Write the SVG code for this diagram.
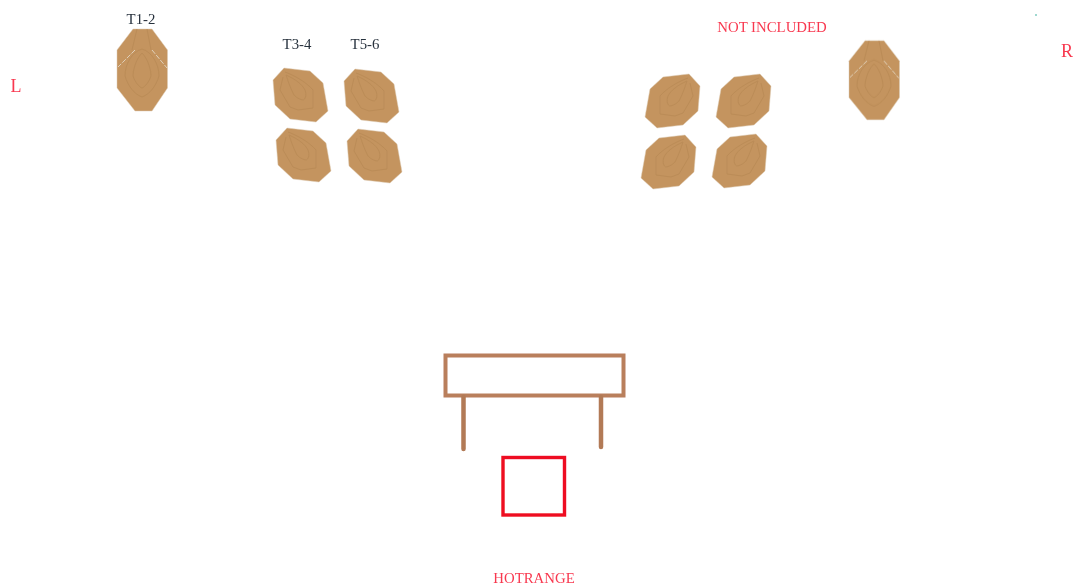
<svg xmlns="http://www.w3.org/2000/svg" width="1074" height="586" viewBox="0 0 1074 586">
<style>
.body{fill:#c4945e;stroke:#dccbb4;stroke-width:.5}
.ring{fill:none;stroke:#bb8c58;stroke-width:1}
.hit{fill:none;stroke:#e0d0ba;stroke-width:1}
.lbl{font-family:"Liberation Serif",serif;font-size:14.800px;text-anchor:middle}
.red{fill:#f8384f}
.dark{fill:#26303c}
.bar{fill:none;stroke:#b97f5c;stroke-width:4}
.leg{fill:none;stroke:#b27a56;stroke-width:4.500;stroke-linecap:round}
</style>
<defs>
<filter id="soft" x="-5%" y="-5%" width="110%" height="110%"><feGaussianBlur stdDeviation="0.7"/></filter>
<g id="tall">
<polygon class="body" points="-9,-41 10,-41 25.500,-20 25.500,18 10,41 -7,41 -25,18 -25,-20"/>
<path class="ring" d="M0,-17 C-7,-10 -9,2 -9,6 C-7,12 -3,17 0,18 C3,17 7,12 9,6 C9,2 7,-10 0,-17Z"/>
<path class="ring" d="M0,-21 C-10,-18 -17,-6 -17,6 C-14,16 -8,24 0,27 C8,24 14,16 17,6 C17,-6 10,-18 0,-21"/>
<path class="ring" d="M-5,-41 L-10,-20 M5,-41 L9,-20"/>
<path class="hit" d="M-7,-20 L-24,-3 M10,-20 L25,-2" stroke-dasharray="5 1.500"/>
</g>
<g id="angled">
<polygon class="body" points="-16,-27 10,-24 23,-12 28,16 16,27 -10,24 -25,10 -27,-15"/>
<path class="ring" d="M-14,-20 C-5,-16 2,-11 5,-5 C7,0 5,5 3,5 C-2,4 -6,1 -7,-2 C-10,-8 -12,-14 -14,-20Z"/>
<path class="ring" d="M-15,-23 C-4,-19 7,-12 13,-5 L13,13 L-2,15 L-10,12 L-20,-5 L-17,-18"/>
</g>
</defs>
<g id="target-t1-2" filter="url(#soft)"><use href="#tall" x="142" y="70"/><text class="lbl dark" x="141" y="24">T1-2</text></g>
<g id="target-t3-4" filter="url(#soft)"><use href="#angled" x="300" y="95"/><use href="#angled" x="303" y="155"/><text class="lbl dark" x="297" y="49">T3-4</text></g>
<g id="target-t5-6" filter="url(#soft)"><use href="#angled" x="371" y="96"/><use href="#angled" x="374" y="156"/><text class="lbl dark" x="365" y="49">T5-6</text></g>
<g id="not-included" filter="url(#soft)">
<use href="#angled" transform="translate(673 101) scale(-1 1)"/>
<use href="#angled" transform="translate(744 101) scale(-1 1)"/>
<use href="#angled" transform="translate(669 162) scale(-1 1)"/>
<use href="#angled" transform="translate(740 161) scale(-1 1)"/>
<use href="#tall" transform="translate(874 80.200) scale(1 .965)"/>
<text class="lbl red" x="772" y="32">NOT INCLUDED</text>
</g>
<g id="side-l" filter="url(#soft)"><text class="lbl red" style="font-size:18px" x="16" y="92">L</text></g>
<g id="side-r" filter="url(#soft)"><text class="lbl red" style="font-size:18px" x="1067" y="57">R</text></g>
<g id="table" filter="url(#soft)">
<rect class="bar" x="445.500" y="355.500" width="178" height="40"/>
<path class="leg" d="M463.500,397 V449 M601,397 V447"/>
</g>
<g id="hotrange" filter="url(#soft)">
<rect x="503" y="457.500" width="61.500" height="57.500" fill="none" stroke="#ee0f20" stroke-width="3.400"/>
<text class="lbl red" x="534" y="583">HOTRANGE</text>
</g>
<rect id="speck" x="1035" y="14" width="2" height="2" fill="#9fd8d0"/>
<g id="connectors"></g>
</svg>
